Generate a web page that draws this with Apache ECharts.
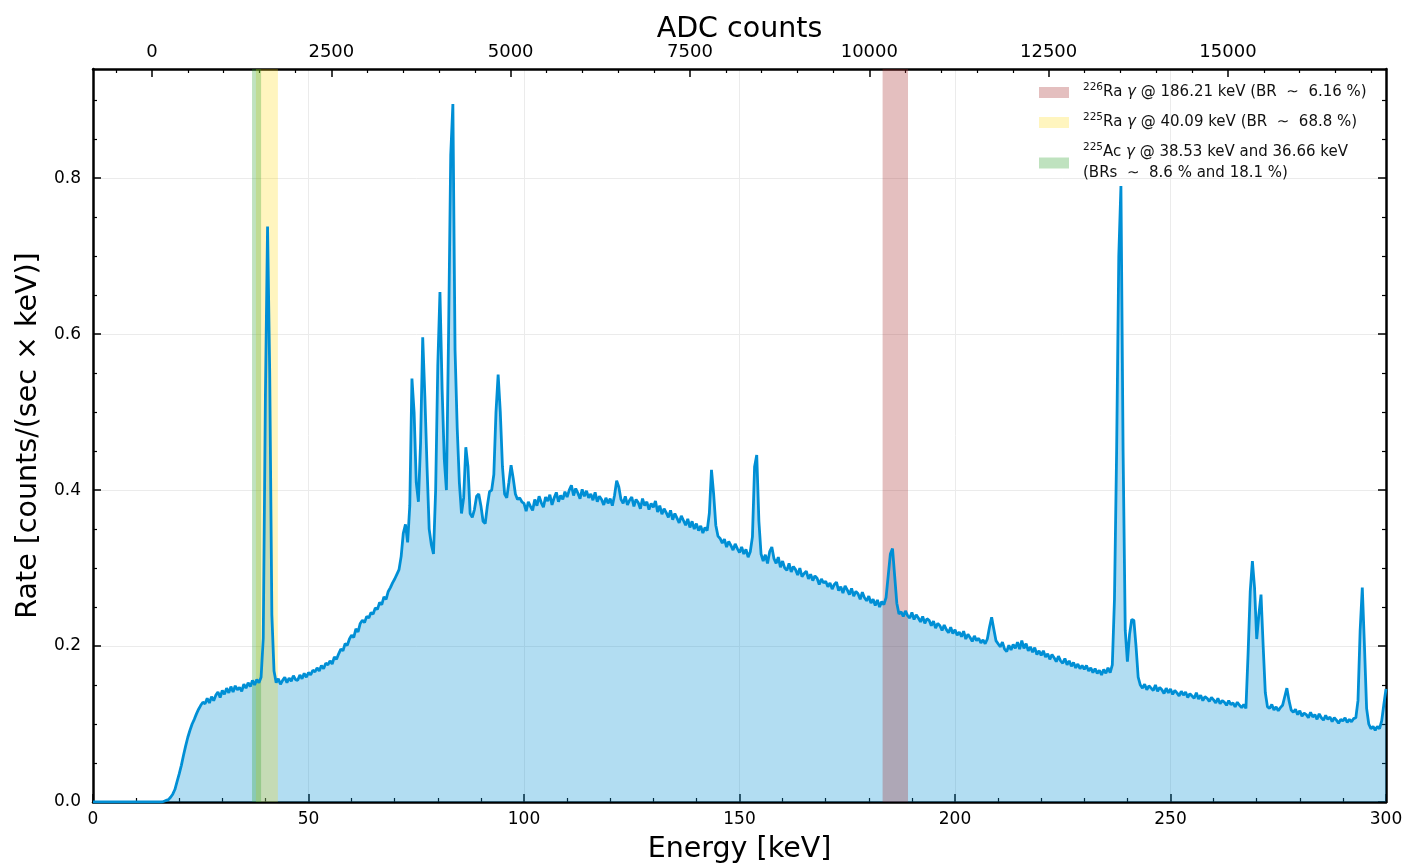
<!DOCTYPE html>
<html>
<head>
<meta charset="utf-8">
<script src="https://cdn.jsdelivr.net/npm/echarts@6/dist/echarts.min.js"></script>
<style>
html,body{margin:0;padding:0;background:#fff;}
#chart{width:1404px;height:864px;}
</style>
</head>
<body>
<div id="chart"></div>
<script>
// ---- Data (rate in counts/(sec x keV), one value per 0.5 keV bin, 0 .. 300 keV) ----
const binWidthKeV = 0.5;
const rate = [
// 0 - 9.5
0,0,0,0,0,0,0,0,0,0,0,0,0,0,0,0,0,0,0,0,
// 10 - 19.5
0,0,0,0,0,0,0,0,0,0,0,0,0,0.001,0.002,0.003,0.006,0.010,0.016,0.026,
// 20 - 29.5
0.036,0.047,0.060,0.072,0.083,0.092,0.100,0.106,0.113,0.119,0.124,0.128,0.126,0.133,0.127,0.135,0.130,0.137,0.141,0.134,
// 30 - 39.5
0.143,0.138,0.146,0.140,0.148,0.141,0.149,0.144,0.147,0.142,0.151,0.146,0.153,0.148,0.156,0.150,0.157,0.153,0.160,0.210,
// 40 - 49.5
0.520,0.738,0.550,0.240,0.168,0.153,0.158,0.151,0.156,0.160,0.153,0.159,0.155,0.162,0.157,0.156,0.163,0.158,0.165,0.160,
// 50 - 59.5
0.166,0.163,0.169,0.167,0.172,0.168,0.175,0.171,0.178,0.176,0.181,0.177,0.186,0.183,0.190,0.196,0.194,0.203,0.201,0.209,
// 60 - 69.5
0.214,0.211,0.222,0.218,0.229,0.233,0.230,0.238,0.236,0.243,0.241,0.249,0.247,0.256,0.253,0.263,0.260,0.270,0.275,0.281,
// 70 - 79.5
0.286,0.292,0.298,0.315,0.345,0.356,0.333,0.380,0.543,0.500,0.410,0.385,0.460,0.596,0.520,0.430,0.350,0.330,0.318,0.400,
// 80 - 89.5
0.560,0.654,0.530,0.440,0.400,0.600,0.830,0.895,0.580,0.480,0.410,0.370,0.390,0.455,0.430,0.370,0.365,0.375,0.392,0.395,
// 90 - 99.5
0.380,0.360,0.357,0.380,0.398,0.400,0.420,0.500,0.548,0.500,0.430,0.395,0.390,0.410,0.432,0.415,0.395,0.388,0.390,0.385,
// 100 - 109.5
0.383,0.373,0.385,0.379,0.374,0.388,0.380,0.392,0.384,0.378,0.391,0.386,0.394,0.381,0.390,0.397,0.385,0.393,0.388,0.398,
// 110 - 119.5
0.391,0.400,0.406,0.393,0.402,0.396,0.389,0.401,0.392,0.399,0.390,0.395,0.387,0.397,0.385,0.392,0.388,0.381,0.390,0.383,
// 120 - 129.5
0.389,0.380,0.393,0.412,0.404,0.388,0.383,0.392,0.381,0.387,0.391,0.379,0.388,0.384,0.376,0.389,0.380,0.385,0.375,0.383,
// 130 - 139.5
0.378,0.386,0.372,0.380,0.369,0.376,0.371,0.365,0.374,0.362,0.370,0.364,0.358,0.367,0.361,0.355,0.363,0.352,0.360,0.350,
// 140 - 149.5
0.357,0.348,0.354,0.345,0.352,0.348,0.370,0.426,0.395,0.355,0.341,0.338,0.332,0.337,0.327,0.334,0.329,0.323,0.331,0.325,
// 150 - 159.5
0.320,0.327,0.318,0.324,0.314,0.321,0.340,0.430,0.445,0.360,0.318,0.309,0.317,0.306,0.321,0.327,0.312,0.306,0.314,0.301,
// 160 - 169.5
0.309,0.300,0.297,0.306,0.295,0.302,0.298,0.291,0.300,0.289,0.293,0.296,0.286,0.292,0.284,0.290,0.287,0.279,0.286,0.281,
// 170 - 179.5
0.283,0.276,0.281,0.273,0.279,0.282,0.271,0.276,0.268,0.277,0.272,0.266,0.274,0.264,0.270,0.267,0.260,0.269,0.262,0.258,
// 180 - 189.5
0.264,0.255,0.260,0.252,0.259,0.250,0.257,0.253,0.262,0.290,0.318,0.325,0.290,0.255,0.241,0.244,0.238,0.245,0.239,0.236,
// 190 - 199.5
0.243,0.234,0.240,0.236,0.231,0.238,0.229,0.235,0.233,0.226,0.232,0.223,0.229,0.226,0.220,0.227,0.221,0.217,0.224,0.216,
// 200 - 209.5
0.221,0.214,0.218,0.212,0.219,0.209,0.215,0.211,0.206,0.213,0.207,0.210,0.204,0.208,0.203,0.209,0.224,0.237,0.222,0.207,
// 210 - 219.5
0.203,0.199,0.205,0.196,0.193,0.201,0.195,0.202,0.197,0.205,0.196,0.207,0.197,0.203,0.194,0.199,0.192,0.198,0.189,0.194,
// 220 - 229.5
0.188,0.194,0.186,0.190,0.183,0.189,0.185,0.180,0.187,0.181,0.178,0.184,0.176,0.181,0.174,0.179,0.172,0.177,0.171,0.175,
// 230 - 239.5
0.170,0.175,0.168,0.172,0.166,0.171,0.165,0.169,0.163,0.170,0.165,0.172,0.166,0.176,0.260,0.450,0.700,0.790,0.450,0.220,
// 240 - 249.5
0.180,0.215,0.234,0.233,0.200,0.160,0.150,0.146,0.151,0.144,0.149,0.146,0.143,0.150,0.142,0.147,0.144,0.139,0.146,0.140,
// 250 - 259.5
0.145,0.138,0.143,0.140,0.136,0.142,0.137,0.141,0.134,0.139,0.136,0.133,0.140,0.132,0.137,0.130,0.135,0.133,0.129,0.134,
// 260 - 269.5
0.131,0.127,0.133,0.126,0.130,0.128,0.124,0.130,0.125,0.127,0.122,0.128,0.124,0.121,0.125,0.120,0.190,0.270,0.309,0.275,
// 270 - 279.5
0.209,0.240,0.266,0.200,0.140,0.122,0.120,0.125,0.118,0.122,0.117,0.121,0.124,0.135,0.146,0.130,0.118,0.115,0.119,0.112,
// 280 - 289.5
0.117,0.110,0.114,0.112,0.108,0.115,0.109,0.112,0.106,0.113,0.108,0.105,0.111,0.106,0.109,0.103,0.108,0.105,0.101,0.106,
// 290 - 299.5
0.104,0.108,0.102,0.106,0.103,0.107,0.108,0.130,0.220,0.275,0.200,0.120,0.100,0.094,0.097,0.092,0.097,0.094,0.104,0.125,
// 300
0.145
];

// Highlighted energy bands [from, to] in keV
const bandRa226 = [183.2, 189.1];
const bandRa225 = [37.8, 42.9];
const bandAc225 = [36.9, 39.0];

// Axis tick values
const rateTicks = [0, 0.2, 0.4, 0.6, 0.8];
const rateMinorTicks = [0.05, 0.1, 0.15, 0.25, 0.3, 0.35, 0.45, 0.5, 0.55, 0.65, 0.7, 0.75, 0.85, 0.9];
const adcTicks = [0, 2500, 5000, 7500, 10000, 12500, 15000];
const adcMinorTicks = [-500, 500, 1000, 1500, 2000, 3000, 3500, 4000, 4500, 5500, 6000, 6500, 7000,
  8000, 8500, 9000, 9500, 10500, 11000, 11500, 12000, 13000, 13500, 14000, 14500, 15500, 16000, 16500, 17000];

// ADC calibration: energy = adcOffsetKeV + keVPerAdc * ADC
const adcOffsetKeV = 13.69;
const keVPerAdc = 0.016643;

// ---- Build chart ----
const points = rate.map((r, i) => [i * binWidthKeV, r]);
const adcMin = (0 - adcOffsetKeV) / keVPerAdc;
const adcMax = (300 - adcOffsetKeV) / keVPerAdc;

const FONT = 'DejaVu Sans';
const black = '#000';
const frameLine = { show: true, onZero: false, lineStyle: { color: black, width: 2.5 } };
const noLine = { show: false, onZero: false };
const tickLine = { color: black, width: 1.5 };
const minorLine = { color: black, width: 1.2 };

const legendLabels = {
  'Ra226': '{sup|226}Ra {it|γ} @ 186.21 keV (BR  ∼  6.16 %)',
  'Ra225': '{sup|225}Ra {it|γ} @ 40.09 keV (BR  ∼  68.8 %)',
  'Ac225': '{sup|225}Ac {it|γ} @ 38.53 keV and 36.66 keV\n(BRs  ∼  8.6 % and 18.1 %)'
};

function bandSeries(name, color, band) {
  return {
    name: name, type: 'line', data: [], color: color,
    itemStyle: { color: color },
    z: 2,
    markArea: {
      silent: true, z: 2,
      itemStyle: { color: color },
      data: [[{ xAxis: band[0] }, { xAxis: band[1] }]]
    }
  };
}

const chart = echarts.init(document.getElementById('chart'), null, { renderer: 'canvas' });
chart.setOption({
  animation: false,
  backgroundColor: '#fff',
  textStyle: { fontFamily: FONT },
  grid: { left: 93, right: 18, top: 69, bottom: 62, containLabel: false, outerBoundsMode: 'none' },
  legend: {
    left: 1034, top: 77, orient: 'vertical', icon: 'rect',
    itemWidth: 30, itemHeight: 11, itemGap: 9,
    data: ['Ra226', 'Ra225', 'Ac225'],
    formatter: n => legendLabels[n],
    textStyle: {
      fontFamily: FONT, fontSize: 15, color: '#111', lineHeight: 21, padding: [0, 0, 0, 9],
      rich: {
        sup: { fontFamily: FONT, fontSize: 10.5, color: '#111', verticalAlign: 'top', lineHeight: 14 },
        it: { fontFamily: FONT, fontSize: 15, color: '#111', fontStyle: 'italic', lineHeight: 21 }
      }
    }
  },
  xAxis: [
    {
      type: 'value', position: 'bottom', min: 0, max: 300, interval: 50,
      name: 'Energy [keV]', nameLocation: 'middle', nameGap: 33,
      nameTextStyle: { fontFamily: FONT, fontSize: 28.5, color: black },
      axisLine: frameLine,
      axisTick: { show: true, inside: true, length: 8, lineStyle: tickLine },
      minorTick: { show: true, splitNumber: 5, length: 4, lineStyle: minorLine },
      axisLabel: { fontFamily: FONT, fontSize: 17, color: black, margin: 9 },
      splitLine: { show: true, lineStyle: { color: '#ebebeb', width: 1 } }
    },
    {
      type: 'value', position: 'top', min: adcMin, max: adcMax,
      name: 'ADC counts', nameLocation: 'middle', nameGap: 25, nameMoveOverlap: false,
      nameTextStyle: { fontFamily: FONT, fontSize: 28.5, color: black },
      axisLine: frameLine,
      axisTick: { show: true, inside: true, length: 8, lineStyle: tickLine, customValues: adcTicks },
      axisLabel: { fontFamily: FONT, fontSize: 18, color: black, margin: 8, customValues: adcTicks, formatter: v => String(Math.round(v)) },
      splitLine: { show: false }
    },
    {
      type: 'value', position: 'top', min: adcMin, max: adcMax,
      axisLine: noLine,
      axisTick: { show: true, inside: true, length: 4, lineStyle: minorLine, customValues: adcMinorTicks },
      axisLabel: { show: false },
      splitLine: { show: false }
    }
  ],
  yAxis: [
    {
      type: 'value', position: 'left', min: 0, max: 0.94, interval: 0.2,
      name: 'Rate [counts/(sec × keV)]', nameLocation: 'middle', nameGap: 45, nameRotate: 90,
      nameTextStyle: { fontFamily: FONT, fontSize: 28.5, color: black },
      axisLine: frameLine,
      axisTick: { show: true, inside: true, length: 8, lineStyle: tickLine, customValues: rateTicks },
      axisLabel: { fontFamily: FONT, fontSize: 17, color: black, margin: 12, customValues: rateTicks, formatter: v => v.toFixed(1) },
      splitLine: { show: true, lineStyle: { color: '#ebebeb', width: 1 } }
    },
    {
      type: 'value', position: 'left', min: 0, max: 0.94,
      axisLine: noLine,
      axisTick: { show: true, inside: true, length: 4, lineStyle: minorLine, customValues: rateMinorTicks },
      axisLabel: { show: false }, splitLine: { show: false }
    },
    {
      type: 'value', position: 'right', min: 0, max: 0.94,
      axisLine: frameLine,
      axisTick: { show: true, inside: true, length: 8, lineStyle: tickLine, customValues: rateTicks },
      axisLabel: { show: false }, splitLine: { show: false }
    },
    {
      type: 'value', position: 'right', min: 0, max: 0.94,
      axisLine: noLine,
      axisTick: { show: true, inside: true, length: 4, lineStyle: minorLine, customValues: rateMinorTicks },
      axisLabel: { show: false }, splitLine: { show: false }
    }
  ],
  series: [
    {
      name: 'fill', type: 'line', data: points, xAxisIndex: 0, yAxisIndex: 0,
      showSymbol: false, symbol: 'none', silent: true, z: 1,
      lineStyle: { width: 0, color: 'rgba(0,143,213,0)' },
      areaStyle: { color: 'rgba(0,143,213,0.3)', opacity: 1, origin: 'start' }
    },
    bandSeries('Ra226', 'rgba(165,42,42,0.3)', bandRa226),
    bandSeries('Ra225', 'rgba(255,215,0,0.25)', bandRa225),
    bandSeries('Ac225', 'rgba(44,160,44,0.3)', bandAc225),
    {
      name: 'spectrum', type: 'line', data: points, xAxisIndex: 0, yAxisIndex: 0,
      showSymbol: false, symbol: 'none', silent: true, z: 3,
      lineStyle: { width: 2.8, color: '#008fd5' }
    }
  ]
});
</script>
</body>
</html>
